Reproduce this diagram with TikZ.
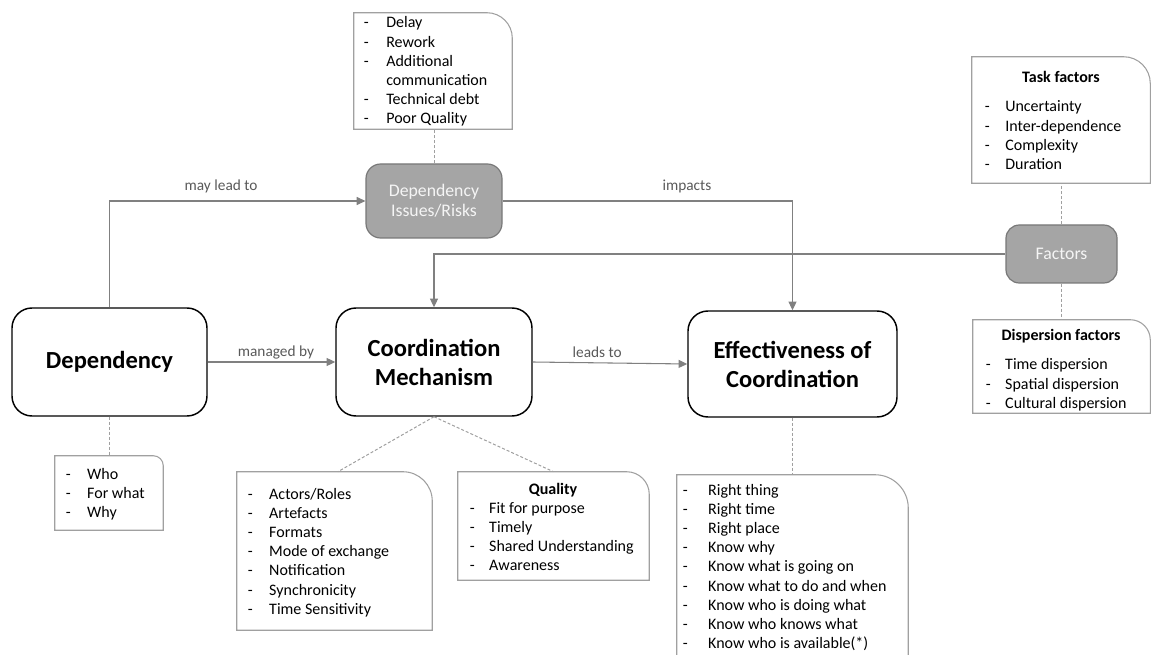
\documentclass[tikz,border=0pt]{standalone}
\usepackage{fontspec}
\setmainfont{Carlito}
\usetikzlibrary{arrows.meta,fit,calc}

\definecolor{connc}{RGB}{128,128,128}
\definecolor{labelc}{RGB}{89,89,89}
\definecolor{notec}{RGB}{160,160,160}
\definecolor{boxfill}{RGB}{165,165,165}
\definecolor{boxedge}{RGB}{120,120,120}
\definecolor{boxtext}{RGB}{245,245,245}

% note outline: square corners except a rounded top-right corner
\newcommand\notepath[2]{%
  \draw[noteline] (#1.south west) -- (#1.north west)
    -- ([xshift=-#2]#1.north east) arc[start angle=90,end angle=0,radius=#2]
    -- (#1.south east) -- cycle;}
% dash list: #1 width of the dash column, #2 rows
\newcommand\dashlist[2]{\begin{tabular}[t]{@{}p{#1}@{}l@{}}#2\end{tabular}}

\begin{document}
\begin{tikzpicture}[x=0.75pt,y=-0.75pt,
  boxsize/.style 2 args={minimum width=#1*0.75pt, minimum height=#2*0.75pt},
  bigbox/.style={draw=black, line width=1.1pt, rounded corners=15pt, inner sep=0pt,
    align=center, font=\fontsize{18.4}{21.8}\selectfont\bfseries},
  graybox/.style={draw=boxedge, fill=boxfill, line width=0.9pt, inner sep=0pt,
    align=center, text=boxtext, font=\fontsize{13.3}{15}\selectfont},
  notebg/.style={inner sep=0pt, draw=none},
  noteline/.style={draw=notec, line width=0.8pt},
  listtext/.style={inner sep=0pt, anchor=base west, font=\fontsize{12}{14.4}\selectfont},
  notetitle/.style={inner sep=0pt, anchor=base, font=\fontsize{12}{14.4}\selectfont\bfseries},
  conn/.style={draw=connc, line width=0.8pt, -{Triangle[length=6.5pt,width=6pt]}},
  link/.style={draw=notec, line width=0.75pt, dash pattern=on 2.25pt off 1.5pt},
  edgelabel/.style={text=labelc, font=\fontsize{11.5}{13}\selectfont, inner sep=0pt}]

\path[use as bounding box] (0,0) rectangle (1152,655);

% ---- main boxes
\node[bigbox, boxsize={195}{108}] (dep) at (109.5,362) {Dependency};
\node[bigbox, boxsize={196}{108}] (coord) at (434,362) {Coordination\\Mechanism};
\node[bigbox, boxsize={209}{106}] (eff) at (792.5,364) {Effectiveness of\\Coordination};

% ---- grey boxes
\node[graybox, rounded corners=11pt, boxsize={136}{74}] (risk) at (434,201) {Dependency\\Issues/Risks};
\node[graybox, rounded corners=10pt, boxsize={111}{58}] (fac) at (1061.5,254) {Factors};

% ---- notes
\node[notebg, fit={(354,13)(512,129)}] (risknote) {};
\notepath{risknote}{19pt}
\node[listtext] (risklist) at (363.5,28) {\dashlist{16.9pt}{%
  -&Delay\\ -&Rework\\ -&Additional\\ &communication\\ -&Technical debt\\ -&Poor Quality}};

\node[notebg, fit={(972,57)(1150,183)}] (tasknote) {};
\notepath{tasknote}{20pt}
\node[notetitle] (tasktitle) at (1061,83) {Task factors};
\node[listtext] (tasklist) at (984.5,112) {\dashlist{15.4pt}{%
  -&Uncertainty\\ -&Inter-dependence\\ -&Complexity\\ -&Duration}};

\node[notebg, fit={(973,320)(1150,413)}] (dispnote) {};
\notepath{dispnote}{15pt}
\node[notetitle] (disptitle) at (1061,341) {Dispersion factors};
\node[listtext] (displist) at (985.5,370) {\dashlist{14.6pt}{%
  -&Time dispersion\\ -&Spatial dispersion\\ -&Cultural dispersion}};

\node[notebg, fit={(55,456)(163,530)}] (whonote) {};
\notepath{whonote}{7.5pt}
\node[listtext] (wholist) at (65.5,479) {\dashlist{16.1pt}{%
  -&Who\\ -&For what\\ -&Why}};

\node[notebg, fit={(237,472)(432,630)}] (mechnote) {};
\notepath{mechnote}{22pt}
\node[listtext] (mechlist) at (247.5,499) {\dashlist{16.1pt}{%
  -&Actors/Roles\\ -&Artefacts\\ -&Formats\\ -&Mode of exchange\\
  -&Notification\\ -&Synchronicity\\ -&Time Sensitivity}};

\node[notebg, fit={(458,472)(649,580)}] (qualnote) {};
\notepath{qualnote}{17pt}
\node[notetitle] (qualtitle) at (553,494) {Quality};
\node[listtext] (quallist) at (469.5,513) {\dashlist{14.6pt}{%
  -&Fit for purpose\\ -&Timely\\ -&Shared Understanding\\ -&Awareness}};

% outcome note runs past the lower edge, so it is left open there
\node[notebg, fit={(677,475)(908,655)}] (effnote) {};
\draw[noteline] (effnote.south west) -- (effnote.north west)
  -- ([xshift=-25pt]effnote.north east) arc[start angle=90,end angle=0,radius=25pt]
  -- (effnote.south east);
\node[listtext] (efflist) at (682.5,495) {\dashlist{19.1pt}{%
  -&Right thing\\ -&Right time\\ -&Right place\\ -&Know why\\
  -&Know what is going on\\ -&Know what to do and when\\
  -&Know who is doing what\\ -&Know who knows what\\ -&Know who is available(*)}};

% ---- connectors
\draw[conn] (dep.north) |- node[edgelabel, pos=0.718, yshift=11.25pt] {may lead to} (risk.west);
\draw[conn] (dep.east) -- node[edgelabel, pos=0.535, yshift=7.2pt] {managed by} (coord.west);
\draw[conn] (coord.east) -- node[edgelabel, pos=0.417, yshift=7.8pt] {leads to} (eff.west);
\draw[conn] (risk.east) -| node[edgelabel, pos=0.318, yshift=11.25pt] {impacts} (eff.north);
\draw[conn] (fac.west) -| (coord.north);

% ---- dashed links to notes
\draw[link] (risk.north) -- (risk.north |- risknote.south);
\draw[link] (fac.north) -- (fac.north |- tasknote.south);
\draw[link] (fac.south) -- (fac.south |- dispnote.north);
\draw[link] (dep.south) -- (dep.south |- whonote.north);
\draw[link] (coord.south) -- ([xshift=2.5pt]mechnote.north);
\draw[link] (coord.south) -- (qualnote.north);
\draw[link] (eff.south) -- (effnote.north);
\end{tikzpicture}
\end{document}
